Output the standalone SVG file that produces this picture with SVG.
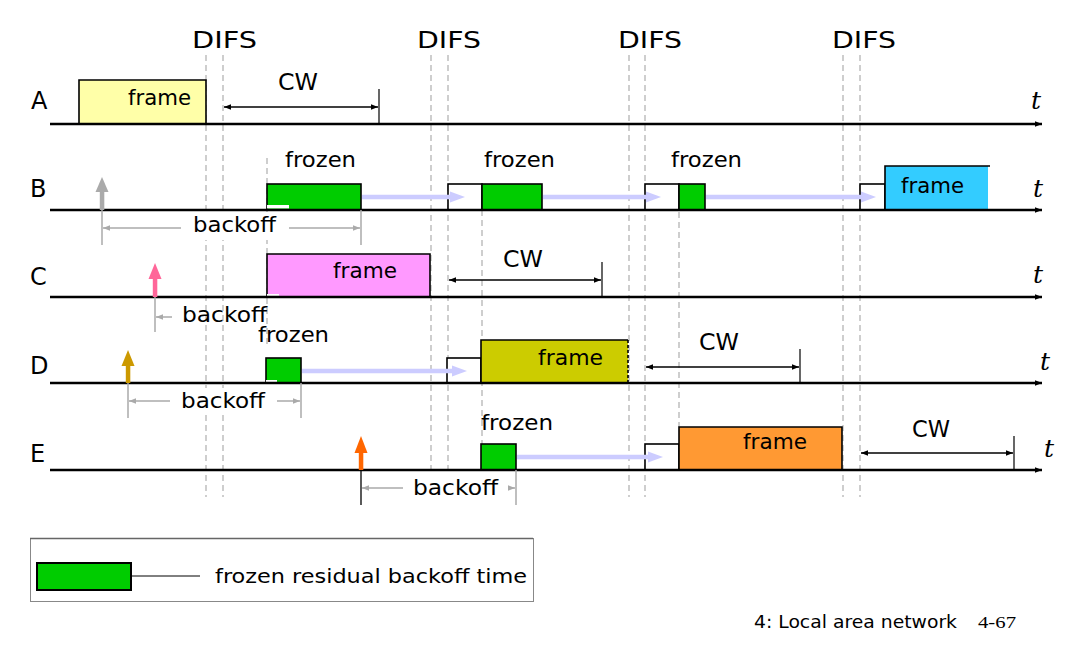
<svg xmlns="http://www.w3.org/2000/svg" width="1073" height="648" viewBox="0 0 1073 648">
<style>
text{font-family:"DejaVu Sans","Liberation Sans",sans-serif;fill:#000}
.lbl{font-size:24px}
.difs{font-size:23px}
.cw{font-size:23px}
.fr{font-size:21px}
.bo{font-size:21px}
.t{font-family:"DejaVu Serif","Liberation Serif",serif;font-style:italic;font-size:25px}
.axis{stroke:#000;stroke-width:2.5;fill:none}
.dash{stroke:#b4b4b4;stroke-width:1.3;stroke-dasharray:6,4;fill:none}
.grn{fill:#00cc00;stroke:#000;stroke-width:1.6}
.wht{fill:#fff;stroke:#000;stroke-width:1.6}
.edge{stroke:#000;stroke-width:1.6;fill:none}
.lav{stroke:#ccccff;stroke-width:4.5}
.lavh{fill:#ccccff}
.gry{stroke:#aaaaaa;stroke-width:1.5;fill:none}
.cwl{stroke:#000;stroke-width:1.5;fill:none}
.tick{stroke:#000;stroke-width:1.2}
</style>
<defs>
<marker id="ah" viewBox="0 0 10 10" refX="10" refY="5" markerWidth="9" markerHeight="7" markerUnits="userSpaceOnUse" orient="auto-start-reverse"><path d="M0,1 L10,5 L0,9 z" fill="#000"/></marker>
<marker id="gh" viewBox="0 0 10 10" refX="10" refY="5" markerWidth="9" markerHeight="7" markerUnits="userSpaceOnUse" orient="auto-start-reverse"><path d="M0,1 L10,5 L0,9 z" fill="#aaaaaa"/></marker>
<marker id="axh" viewBox="0 0 10 10" refX="10" refY="5" markerWidth="11" markerHeight="7" markerUnits="userSpaceOnUse" orient="auto"><path d="M0,1 L10,5 L0,9 z" fill="#000"/></marker>
</defs>

<!-- DIFS guides -->
<g id="difs">
<text class="difs" x="192" y="48" textLength="65" lengthAdjust="spacingAndGlyphs">DIFS</text>
<text class="difs" x="417" y="48" textLength="64" lengthAdjust="spacingAndGlyphs">DIFS</text>
<text class="difs" x="618" y="48" textLength="64" lengthAdjust="spacingAndGlyphs">DIFS</text>
<text class="difs" x="832" y="48" textLength="64" lengthAdjust="spacingAndGlyphs">DIFS</text>
<path class="dash" d="M206,55V497 M223,55V497 M431,55V497 M448,55V497 M629,55V497 M645,55V497 M843,55V497 M860,55V497 M267,158V345 M482,210V444 M679,212V427"/>
</g>

<!-- Row A -->
<g id="rowA">
<text class="lbl" x="31" y="109">A</text>
<rect x="79" y="80" width="127" height="44" fill="#ffffa8"/>
<path class="edge" d="M79,124V80H206V124"/>
<text class="fr" x="128" y="105" textLength="63" lengthAdjust="spacingAndGlyphs">frame</text>
<text class="cw" x="278" y="90" textLength="40" lengthAdjust="spacingAndGlyphs">CW</text>
<line class="tick" x1="379" y1="89" x2="379" y2="124"/>
<line class="axis" x1="50" y1="124" x2="1042" y2="124" marker-end="url(#axh)"/>
<text class="t" x="1031" y="109">t</text>
</g>

<!-- Row B -->
<g id="rowB">
<text class="lbl" x="30" y="197">B</text>
<rect class="grn" x="267" y="184" width="94" height="26"/>
<rect x="267" y="205" width="22" height="3.5" fill="#fff"/>
<rect class="wht" x="448" y="184" width="34" height="26"/>
<rect class="grn" x="482" y="184" width="60" height="26"/>
<rect class="wht" x="645" y="184" width="34" height="26"/>
<rect class="grn" x="679" y="184" width="26" height="26"/>
<rect class="wht" x="860" y="184" width="25" height="26"/>
<rect x="885" y="166" width="103" height="44" fill="#33ccff"/>
<path class="edge" d="M885,210V166H990"/>
<text class="fr" x="901" y="193" textLength="63" lengthAdjust="spacingAndGlyphs">frame</text>
<text class="fr" x="285" y="167" textLength="71" lengthAdjust="spacingAndGlyphs">frozen</text>
<text class="fr" x="484" y="167" textLength="71" lengthAdjust="spacingAndGlyphs">frozen</text>
<text class="fr" x="671" y="167" textLength="71" lengthAdjust="spacingAndGlyphs">frozen</text>
<line class="axis" x1="50" y1="210" x2="1042" y2="210" marker-end="url(#axh)"/>
<text class="t" x="1033" y="197">t</text>
<rect x="99.8" y="190" width="4.5" height="20" fill="#aaaaaa"/>
<path d="M95.5,192 L102,177 L108.5,192 z" fill="#aaaaaa"/>
<line class="gry" x1="102" y1="210" x2="102" y2="245"/>
<line class="gry" x1="361" y1="210" x2="361" y2="245"/>
<line class="gry" x1="181" y1="228" x2="103" y2="228" marker-end="url(#gh)"/>
<line class="gry" x1="289" y1="228" x2="360" y2="228" marker-end="url(#gh)"/>
<rect x="186" y="212" width="98" height="28" fill="#fff"/>
<text class="bo" x="193" y="232" textLength="83" lengthAdjust="spacingAndGlyphs">backoff</text>
</g>

<!-- Row C -->
<g id="rowC">
<text class="lbl" x="30" y="285">C</text>
<rect x="267" y="254" width="163" height="43" fill="#ff99ff"/>
<path class="edge" d="M267,297V254H430V297"/>
<rect x="267" y="294" width="12" height="2" fill="#fff"/>
<text class="fr" x="333" y="278" textLength="64" lengthAdjust="spacingAndGlyphs">frame</text>
<text class="cw" x="503" y="267" textLength="40" lengthAdjust="spacingAndGlyphs">CW</text>
<line class="tick" x1="602" y1="262" x2="602" y2="297" stroke="#888"/>
<line class="axis" x1="50" y1="297" x2="1042" y2="297" marker-end="url(#axh)"/>
<text class="t" x="1033" y="283">t</text>
<rect x="152.8" y="277" width="4.5" height="20" fill="#ff6699"/>
<path d="M148.5,279 L155,263 L161.5,279 z" fill="#ff6699"/>
<line class="gry" x1="155" y1="297" x2="155" y2="332"/>
<line class="gry" x1="172" y1="317" x2="156" y2="317" marker-end="url(#gh)"/>
<text class="bo" x="182" y="322" textLength="85" lengthAdjust="spacingAndGlyphs">backoff</text>
</g>

<!-- Row D -->
<g id="rowD">
<text class="lbl" x="30" y="374">D</text>
<rect class="grn" x="266" y="358" width="35" height="25"/>
<rect x="266" y="380" width="11" height="2" fill="#fff"/>
<rect class="wht" x="447" y="358" width="34" height="25"/>
<rect x="481" y="340" width="147" height="43" fill="#cccc00"/>
<path class="edge" d="M481,383V340H628"/>
<line x1="628" y1="340" x2="628" y2="383" stroke="#000" stroke-width="1.6" stroke-dasharray="3,2"/>
<text class="fr" x="538" y="365" textLength="65" lengthAdjust="spacingAndGlyphs">frame</text>
<text class="fr" x="258" y="342" textLength="71" lengthAdjust="spacingAndGlyphs">frozen</text>
<text class="cw" x="699" y="350" textLength="40" lengthAdjust="spacingAndGlyphs">CW</text>
<line class="tick" x1="800" y1="349" x2="800" y2="383" stroke="#888"/>
<line class="axis" x1="50" y1="383" x2="1042" y2="383" marker-end="url(#axh)"/>
<text class="t" x="1040" y="370">t</text>
<rect x="125.8" y="364" width="4.5" height="19" fill="#cc9900"/>
<path d="M121.5,366 L128,350 L134.5,366 z" fill="#cc9900"/>
<line class="gry" x1="128" y1="383" x2="128" y2="418"/>
<line class="gry" x1="301" y1="383" x2="301" y2="418"/>
<line class="gry" x1="170" y1="401" x2="129" y2="401" marker-end="url(#gh)"/>
<line class="gry" x1="277" y1="401" x2="300" y2="401" marker-end="url(#gh)"/>
<rect x="176" y="388" width="96" height="27" fill="#fff"/>
<text class="bo" x="181" y="408" textLength="84" lengthAdjust="spacingAndGlyphs">backoff</text>
</g>

<!-- Row E -->
<g id="rowE">
<text class="lbl" x="30" y="462">E</text>
<rect class="grn" x="481" y="444" width="35" height="26"/>
<rect class="wht" x="645" y="444" width="34" height="26"/>
<rect x="679" y="427" width="163" height="43" fill="#ff9933"/>
<path class="edge" d="M679,470V427H842V470"/>
<text class="fr" x="743" y="449" textLength="64" lengthAdjust="spacingAndGlyphs">frame</text>
<text class="fr" x="481" y="430" textLength="72" lengthAdjust="spacingAndGlyphs">frozen</text>
<text class="cw" x="912" y="437" textLength="38" lengthAdjust="spacingAndGlyphs">CW</text>
<line class="tick" x1="1014" y1="436" x2="1014" y2="470" stroke="#555"/>
<line class="axis" x1="50" y1="470" x2="1042" y2="470" marker-end="url(#axh)"/>
<text class="t" x="1044" y="457">t</text>
<rect x="358.8" y="451" width="4.5" height="19" fill="#ff6600"/>
<path d="M354.5,453 L361,436 L367.5,453 z" fill="#ff6600"/>
<line x1="361" y1="470" x2="361" y2="505" stroke="#000" stroke-width="1.3"/>
<line class="gry" x1="516" y1="470" x2="516" y2="505"/>
<line class="gry" x1="403" y1="488" x2="362" y2="488" marker-end="url(#gh)"/>
<line class="gry" x1="509" y1="488" x2="515" y2="488" marker-end="url(#gh)"/>
<rect x="408" y="475" width="96" height="27" fill="#fff"/>
<text class="bo" x="413" y="495" textLength="85" lengthAdjust="spacingAndGlyphs">backoff</text>
</g>

<!-- connectors -->
<g id="connectors">
<line class="cwl" x1="224" y1="107" x2="378" y2="107" marker-start="url(#ah)" marker-end="url(#ah)"/>
<line class="cwl" x1="449" y1="280" x2="601" y2="280" marker-start="url(#ah)" marker-end="url(#ah)"/>
<line class="cwl" x1="646" y1="367" x2="799" y2="367" marker-start="url(#ah)" marker-end="url(#ah)"/>
<line class="cwl" x1="861" y1="453" x2="1013" y2="453" marker-start="url(#ah)" marker-end="url(#ah)"/>
<line class="lav" x1="362" y1="197" x2="452" y2="197"/><path class="lavh" d="M450,191.5 L465,197 L450,202.5 z"/>
<line class="lav" x1="543" y1="197" x2="648" y2="197"/><path class="lavh" d="M646,191.5 L661,197 L646,202.5 z"/>
<line class="lav" x1="706" y1="197" x2="863" y2="197"/><path class="lavh" d="M861,191.5 L876,197 L861,202.5 z"/>
<line class="lav" x1="302" y1="371" x2="454" y2="371"/><path class="lavh" d="M452,365.5 L467,371 L452,376.5 z"/>
<line class="lav" x1="517" y1="457" x2="650" y2="457"/><path class="lavh" d="M648,451.5 L663,457 L648,462.5 z"/>
</g>

<!-- Legend -->
<g id="legend">
<rect x="30.5" y="538.5" width="503" height="63" fill="#fff" stroke="#888" stroke-width="1"/>
<line x1="30" y1="538.5" x2="533" y2="538.5" stroke="#666" stroke-width="1.5"/>
<rect x="37" y="563" width="94" height="27" fill="#00cc00" stroke="#000" stroke-width="2"/>
<line x1="131" y1="576" x2="200" y2="576" stroke="#000" stroke-width="1"/>
<text x="215" y="583" style="font-size:20px" textLength="312" lengthAdjust="spacingAndGlyphs">frozen residual backoff time</text>
</g>

<!-- Footer -->
<g id="footer">
<text x="754" y="628" style="font-size:18px" textLength="203" lengthAdjust="spacingAndGlyphs">4: Local area network</text>
<text x="978" y="628" style="font-family:'Liberation Serif',serif;font-size:17px" textLength="38" lengthAdjust="spacingAndGlyphs">4-67</text>
</g>
</svg>
